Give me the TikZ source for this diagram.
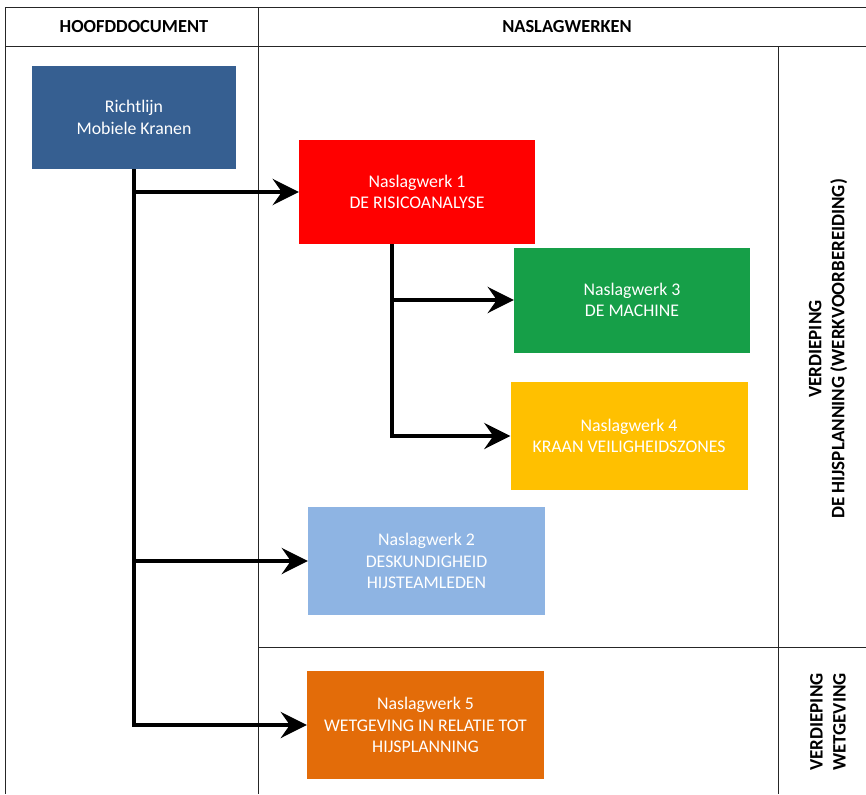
\documentclass[tikz,border=0pt]{standalone}
\usepackage{fontspec}
\setmainfont{Carlito}
\usetikzlibrary{arrows.meta}
\definecolor{cdblue}{HTML}{365F91}
\definecolor{cred}{HTML}{FF0000}
\definecolor{cgreen}{HTML}{169F48}
\definecolor{cyellow}{HTML}{FFC000}
\definecolor{clblue}{HTML}{8EB4E3}
\definecolor{corange}{HTML}{E36C09}
\tikzset{
  grid/.style={draw=black!85, line width=1pt},
  boxnode/.style={rectangle, inner sep=0pt, text=white, align=center,
    font=\fontsize{17.8}{21.5}\selectfont},
  hdr/.style={font=\bfseries\fontsize{18.4}{21}\selectfont, align=center},
  vlabel/.style={font=\bfseries\fontsize{19}{23}\selectfont, align=center, rotate=90},
  conn/.style={line width=4pt, line join=miter},
  arr/.style={conn, -{Stealth[length=26pt,width=26pt,inset=9pt]}}
}
\begin{document}
\begin{tikzpicture}[x=1pt,y=-1pt]
\useasboundingbox (0,0) rectangle (866,794);
% grid lines
\draw[grid] (5,8) -- (866,8);
\draw[grid] (5,47) -- (866,47);
\draw[grid] (5,8) -- (5,794);
\draw[grid] (258,8) -- (258,794);
\draw[grid] (778,47) -- (778,794);
\draw[grid] (258,647) -- (866,647);
% headers
\node[hdr] (h1) at (134,27) {HOOFDDOCUMENT};
\node[hdr] (h2) at (567,27) {NASLAGWERKEN};
\node[vlabel] (v1) at (828,349) {VERDIEPING\\DE HIJSPLANNING (WERKVOORBEREIDING)};
\node[vlabel] (v2) at (828,722) {VERDIEPING\\WETGEVING};
% boxes
\node[boxnode, fill=cdblue, minimum width=204pt, minimum height=103pt] (rl) at (134,117.5) {Richtlijn\\Mobiele Kranen};
\node[boxnode, fill=cred, minimum width=236pt, minimum height=104pt] (nw1) at (417,192) {Naslagwerk 1\\DE RISICOANALYSE};
\node[boxnode, fill=cgreen, minimum width=236pt, minimum height=105pt] (nw3) at (632,300) {Naslagwerk 3\\DE MACHINE};
\node[boxnode, fill=cyellow, minimum width=237pt, minimum height=108pt] (nw4) at (629,436) {Naslagwerk 4\\KRAAN VEILIGHEIDSZONES};
\node[boxnode, fill=clblue, minimum width=237pt, minimum height=108pt] (nw2) at (426.5,561) {Naslagwerk 2\\DESKUNDIGHEID\\HIJSTEAMLEDEN};
\node[boxnode, fill=corange, minimum width=237pt, minimum height=108pt] (nw5) at (425.5,725) {Naslagwerk 5\\WETGEVING IN RELATIE TOT\\HIJSPLANNING};
% connectors
\draw[arr] (rl.south) -- (rl.south |- nw5.west) -- (nw5.west);
\draw[arr] (rl.south |- nw1.west) -- (nw1.west);
\draw[arr] (rl.south |- nw2.west) -- (nw2.west);
\coordinate (b1) at ([xshift=-25pt]nw1.south);
\draw[arr] (b1) -- (b1 |- nw4.west) -- (nw4.west);
\draw[arr] (b1 |- nw3.west) -- (nw3.west);
\end{tikzpicture}
\end{document}
